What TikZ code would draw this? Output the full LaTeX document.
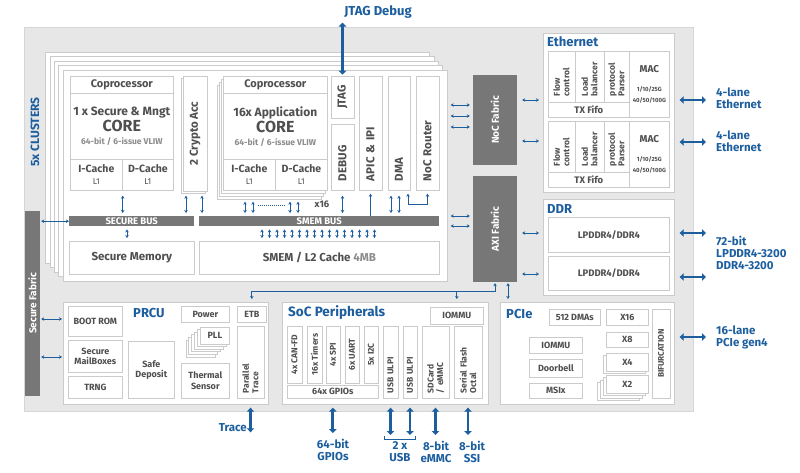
\documentclass[tikz,border=0pt]{standalone}
\usepackage{fontspec}
\setmainfont{Fira Sans}
\usetikzlibrary{arrows.meta, calc, positioning}

\definecolor{chipgray}{HTML}{E7E7E7}
\definecolor{chipline}{HTML}{D6D6D6}
\definecolor{fabgray}{HTML}{777777}
\definecolor{boxline}{HTML}{CBCBCB}
\definecolor{txtgray}{HTML}{4F4F4F}
\definecolor{litegray}{HTML}{8C8C8C}
\definecolor{linkblue}{HTML}{1C5E9E}

\newcommand{\fsz}[2]{\fontsize{#1}{#2}\selectfont}

\tikzset{
    blk/.style={draw=boxline, fill=white, line width=0.7pt, anchor=north west, inner sep=0pt,
                align=center, text=txtgray, font=\bfseries\fsz{9}{10.5}},
    vblk/.style={blk, rotate=90, anchor=center},
    sz/.style 2 args={minimum width=#1, minimum height=#2},
    fab/.style={fill=fabgray, inner sep=0pt, text=white, font=\bfseries\fsz{10}{11}},
    shade/.style={draw=boxline, fill=white, line width=0.7pt},
    ttl/.style={anchor=west, inner sep=0pt, text=linkblue, font=\bfseries\fsz{13}{15}},
    ext/.style={anchor=west, align=left, inner sep=0pt, text=linkblue, font=\bfseries\fsz{11.5}{12}},
    arr/.style={{Stealth[length=3pt,width=3.5pt]}-{Stealth[length=3pt,width=3.5pt]}, draw=linkblue, line width=0.9pt},
    uparr/.style={-{Stealth[length=3pt,width=3.5pt]}, draw=linkblue, line width=0.9pt},
    busarr/.style={arr, shorten <=3pt, shorten >=3pt},
    bigarr/.style={{Triangle[length=4pt,width=7.5pt]}-{Triangle[length=4pt,width=7.5pt]}, draw=linkblue, line width=2.8pt},
    colt/.style={vblk, font=\bfseries\fsz{8.5}{9.5}, text width=39, align=left},
    tall/.style={vblk, font=\bfseries\fsz{11.5}{12}, align=left},
    slim/.style={vblk, font=\bfseries\fsz{8.5}{9.5}},
}

\begin{document}
\begin{tikzpicture}[x=1pt, y=-1pt]
\useasboundingbox (0,0) rectangle (800,472);

% chip
\node[draw=chipline, fill=chipgray, anchor=north west, inner sep=0pt, sz={669}{384}] (chip) at (24,27) {};

% clusters
\foreach \k in {4,3,2,1}
    \draw[shade] (63-4.3*\k, 70-4.5*\k) rectangle (447-4.3*\k, 281-4.5*\k);
\node[blk, sz={384}{211}] (clu) at (63,70) {};
\node[rotate=90, text=linkblue, font=\bfseries\fsz{12}{13}] (clulab) at (35,132) {5x CLUSTERS};
\node[fab, rotate=90, sz={185}{15}] (secfab) at (32.5,303.5) {Secure Fabric};

\node[blk, sz={103}{17}, font=\bfseries\fsz{11}{12}] (coproS) at (70,76) {Coprocessor};
\node[blk, sz={103}{66}, font=\bfseries\fsz{12}{14}] (coreS) at (70,93) {1 x Secure \& Mngt\\[1pt]\fsz{16}{18}CORE\\[-1pt]\fsz{8.5}{10}\color{litegray}64-bit / 6-issue VLIW};
\node[blk, sz={52}{31}, font=\bfseries\fsz{10.5}{12}] (icS) at (70,159) {I-Cache\\\mdseries\fsz{8.5}{10}L1};
\node[blk, sz={51}{31}, font=\bfseries\fsz{10.5}{12}] (dcS) at (122,159) {D-Cache\\\mdseries\fsz{8.5}{10}L1};

\draw[shade] (181,78.5) rectangle (205,193.5);
\node[vblk, sz={115}{24}, font=\bfseries\fsz{11.5}{12}] (crypto) at (195,133.5) {2 Crypto Acc};

\foreach \k in {3,2,1}
    \draw[shade] (223-2*\k, 76+3*\k) rectangle (327-2*\k, 190+3*\k);
\node[blk, sz={104}{17}, font=\bfseries\fsz{11}{12}] (coproA) at (223,76) {Coprocessor};
\node[blk, sz={104}{66}, font=\bfseries\fsz{12}{14}] (coreA) at (223,93) {16x Application\\[1pt]\fsz{16}{18}CORE\\[-1pt]\fsz{8.5}{10}\color{litegray}64-bit / 6-issue VLIW};
\node[blk, sz={52}{31}, font=\bfseries\fsz{10.5}{12}] (icA) at (223,159) {I-Cache\\\mdseries\fsz{8.5}{10}L1};
\node[blk, sz={52}{31}, font=\bfseries\fsz{10.5}{12}] (dcA) at (275,159) {D-Cache\\\mdseries\fsz{8.5}{10}L1};

\node[tall, sz={42}{23}, align=center] (jtag) at (342.5,97) {JTAG};
\node[tall, sz={66}{23}, text width=48] (dbg) at (342.5,157) {DEBUG};
\node[tall, sz={114}{23}, text width=96] (apic) at (370.5,133) {APIC \& IPI};
\node[tall, sz={114}{22}, text width=96] (dma) at (399,133) {DMA};
\node[tall, sz={114}{23}, text width=96] (rtr) at (427.5,133) {NoC Router};

\node[fab, anchor=north west, sz={125}{10}, font=\bfseries\fsz{9.5}{10}] (sbus) at (69,216) {SECURE BUS};
\node[fab, anchor=north west, sz={240}{10}, font=\bfseries\fsz{9.5}{10}] (mbus) at (199,216) {SMEM BUS};
\node[blk, sz={125}{33}, font=\bfseries\fsz{11.5}{12}] (smem) at (69,241) {Secure Memory};
\node[blk, sz={240}{33}, font=\bfseries\fsz{11.5}{12}] (l2) at (199,241) {SMEM / L2 Cache \textcolor{litegray}{4MB}};
\node[text=txtgray, inner sep=0pt, font=\bfseries\fsz{9.5}{10}] (x16) at (322,204) {x16};

% fabrics
\node[fab, rotate=90, sz={90}{44}] (noc) at (495,120) {NoC Fabric};
\node[fab, rotate=90, sz={106}{44}] (axi) at (495,229) {AXI Fabric};

% ethernet
\node[blk, sz={131}{159}] (eth) at (543,33) {};
\node[ttl] (ethlab) at (547,42) {Ethernet};
\node[blk, sz={121}{66}] (ethA) at (548,51) {};
\node[colt, sz={51}{27}] (flowA) at (561.5,76.5) {Flow\\control};
\node[colt, sz={51}{29}] (lbA) at (589.5,76.5) {Load\\balancer};
\node[colt, sz={51}{25}] (ppA) at (616.5,76.5) {protocol\\Parser};
\node[blk, sz={81}{15}, font=\bfseries\fsz{9.5}{10}] (txA) at (548,102) {TX Fifo};
\node[blk, sz={40}{66}, font=\bfseries\fsz{10}{11}] (macA) at (629,51) {MAC\\[8pt]\fsz{6}{7}1/10/25G\\\fsz{6}{7}40/50/100G};
\node[blk, sz={121}{66}] (ethB) at (548,121) {};
\node[colt, sz={51}{27}] (flowB) at (561.5,146.5) {Flow\\control};
\node[colt, sz={51}{29}] (lbB) at (589.5,146.5) {Load\\balancer};
\node[colt, sz={51}{25}] (ppB) at (616.5,146.5) {protocol\\Parser};
\node[blk, sz={81}{15}, font=\bfseries\fsz{9.5}{10}] (txB) at (548,172) {TX Fifo};
\node[blk, sz={40}{66}, font=\bfseries\fsz{10}{11}] (macB) at (629,121) {MAC\\[8pt]\fsz{6}{7}1/10/25G\\\fsz{6}{7}40/50/100G};

% ddr
\node[blk, sz={131}{96}] (ddr) at (543,199) {};
\node[ttl] (ddrlab) at (547,209) {DDR};
\node[blk, sz={121}{35}, font=\bfseries\fsz{9.5}{10}] (ddrA) at (548,217) {LPDDR4/DDR4};
\node[blk, sz={121}{34}, font=\bfseries\fsz{9.5}{10}] (ddrB) at (548,256) {LPDDR4/DDR4};

% pcie
\node[blk, sz={174}{102}] (pcie) at (500,302) {};
\node[ttl] (pcielab) at (506,314) {PCIe};
\node[blk, sz={51}{16}] (dmas) at (549,309) {512 DMAs};
\node[blk, sz={42}{16}] (x16l) at (606,309) {X16};
\node[blk, sz={42}{15}] (x8l) at (606,332) {X8};
\draw[shade] (603,355.5) rectangle (645,373.5);
\node[blk, sz={42}{18}] (x4l) at (606,353) {X4};
\foreach \k in {3,2,1}
    \draw[shade] (606-3*\k, 375+2.5*\k) rectangle (648-3*\k, 393+2.5*\k);
\node[blk, sz={42}{18}] (x2l) at (606,375) {X2};
\node[blk, sz={53}{16}] (piommu) at (529,337) {IOMMU};
\node[blk, sz={53}{18}] (door) at (529,359) {Doorbell};
\node[blk, sz={53}{15}] (msix) at (529,383) {MSIx};
\node[slim, sz={89}{18}, font=\bfseries\fsz{8.2}{9}] (bif) at (661,353.5) {BIFURCATION};

% prcu
\node[blk, sz={205}{102}] (prcu) at (63,302) {};
\node[ttl] (prculab) at (133,313) {PRCU};
\node[blk, sz={54}{30}] (boot) at (68,306) {BOOT ROM};
\node[blk, sz={54}{32}] (mail) at (68,340) {Secure\\MailBoxes};
\node[blk, sz={54}{22}] (trng) at (68,376) {TRNG};
\node[blk, sz={46}{57}] (safe) at (128,341) {Safe\\Deposit};
\node[blk, sz={48}{16}] (power) at (181,306) {Power};
\foreach \k in {5,4,3,2,1}
    \draw[shade] (200-2.8*\k, 327+2.6*\k) rectangle (229-2.8*\k, 344+2.6*\k);
\node[blk, sz={29}{17}] (pll) at (200,327) {PLL};
\node[blk, sz={48}{35}] (therm) at (181,363) {Thermal\\Sensor};
\node[blk, sz={29}{16}] (etb) at (237,306) {ETB};
\node[slim, sz={72}{27}, text width=62, align=left] (ptrace) at (250.5,362) {Parallel\\Trace};

% soc peripherals
\node[blk, sz={206}{102}] (soc) at (282,302) {};
\node[ttl, font=\bfseries\fsz{13.5}{15}] (soclab) at (288,313) {SoC Peripherals};
\node[blk, sz={53}{17}] (siommu) at (430,307) {IOMMU};
\node[slim, sz={57}{15}] (can) at (294.5,354.5) {4x CAN-FD};
\node[slim, sz={57}{15}] (tim) at (314.5,354.5) {16x Timers};
\node[slim, sz={57}{14}] (spi) at (333,354.5) {4x SPI};
\node[slim, sz={57}{14}] (uart) at (352,354.5) {6x UART};
\node[slim, sz={57}{14}] (iic) at (371,354.5) {5x I2C};
\node[blk, sz={91}{13}] (gpio) at (287,385) {64x GPIOs};
\node[slim, sz={72}{15}, text width=62, align=left] (usb1) at (390.5,362) {USB ULPI};
\node[slim, sz={72}{14}, text width=62, align=left] (usb2) at (410,362) {USB ULPI};
\node[slim, sz={72}{27}, text width=62, align=left] (sd) at (435.5,362) {SDCard\\/ eMMC};
\node[slim, sz={72}{28}, text width=62, align=left] (sf) at (468,362) {Serial Flash\\Octal};

% outside labels
\node[ext, anchor=center, align=center, font=\bfseries\fsz{13}{14}] (jlab) at (378,12) {JTAG Debug};
\node[ext] (elab1) at (716,98) {4-lane\\Ethernet};
\node[ext] (elab2) at (716,141) {4-lane\\Ethernet};
\node[ext] (dlab) at (716,253) {72-bit\\LPDDR4-3200\\DDR4-3200};
\node[ext] (plab) at (716,337) {16-lane\\PCIe gen4};
\node[ext, anchor=east] (tlab) at (247,428) {Trace};
\node[ext, anchor=north, align=center] (lgpio) at (333,439) {64-bit\\GPIOs};
\node[ext, anchor=north, align=center] (lusb) at (400,441) {2 x\\USB};
\node[ext, anchor=north, align=center] (lemmc) at (436,441) {8-bit\\eMMC};
\node[ext, anchor=north, align=center] (lssi) at (472,441) {8-bit\\SSI};

% links inside the cluster
\draw[arr, shorten <=1pt] (secfab.south |- sbus.west) -- (sbus.west);
\draw[busarr, shorten <=5pt] (icS.south east) -- (icS.south east |- sbus.north);
\foreach \dx in {-9,7}
    \draw[busarr, shorten <=5pt] ($(crypto.center |- icS.south)+(\dx,0)$) -- ($(crypto.center |- sbus.north)+(\dx,0)$);
\foreach \dx in {22,30,67,75}
    \draw[busarr, shorten <=11pt] ($(icA.south west)+(\dx,0)$) -- ($(icA.south west |- mbus.north)+(\dx,0)$);
\draw[linkblue, line width=0.7pt, dash pattern=on 1pt off 1pt] ($(icA.south west)+(35,15)$) -- ($(icA.south west)+(62,15)$);
\draw[busarr, shorten <=5pt] (dbg.center |- icS.south) -- (dbg.center |- sbus.north);
\draw[uparr, shorten >=3pt] (apic.center |- mbus.north) -- (apic.center |- icS.south);
\foreach \dx in {-8,0}
    \draw[busarr, shorten <=5pt] ($(dma.center |- icS.south)+(\dx,0)$) -- ($(dma.center |- mbus.north)+(\dx,0)$);
\draw[arr] ($(dma.center |- icS.south)+(9,3)$) -- ($(dma.center |- icS.south)+(9,14)$) -| ($(rtr.center |- icS.south)+(0,3)$);
\draw[busarr] ($(sbus.south west)+(58,0)$) -- ($(smem.north west)+(58,0)$);
\foreach \i in {0,...,15}
    \draw[busarr, line width=0.8pt] ($(mbus.south west)+(63+7.5*\i,0)$) -- ($(l2.north west)+(63+7.5*\i,0)$);

% links between blocks
\foreach \yy in {105,116,127}
    \draw[busarr] (clu.east |- 0,\yy) -- (noc.north |- 0,\yy);
\foreach \yy in {216,226}
    \draw[busarr] (clu.east |- 0,\yy) -- (axi.north |- 0,\yy);
\foreach \yy in {100,141}
    \draw[arr, shorten <=5pt, shorten >=4pt] (noc.south |- 0,\yy) -- (eth.west |- 0,\yy);
\foreach \yy in {233,274}
    \draw[arr, shorten <=5pt, shorten >=4pt] (axi.south |- 0,\yy) -- (ddr.west |- 0,\yy);
\foreach \yy in {319,357}
    \draw[arr, shorten <=1pt, shorten >=1pt] (secfab.south |- 0,\yy) -- (prcu.west |- 0,\yy);
\coordinate (hub) at (axi.west |- 0,291);
\draw[uparr, shorten >=1pt] (etb.north |- hub) -- (hub) -- (axi.west);
\draw[uparr, shorten >=3pt] (etb.north |- hub) -- (etb.north |- prcu.north);
\draw[uparr, shorten >=3pt] (siommu.north |- hub) -- (siommu.north |- soc.north);
\coordinate (apcie) at ($(axi.west)+(13,0)$);
\draw[arr, shorten <=1pt, shorten >=3pt] (apcie) -- (apcie |- pcie.north);

% links to the outside
\draw[bigarr, shorten <=4pt, shorten >=1pt] (jtag.center |- jlab.south) -- (jtag.east);
\draw[bigarr, shorten <=5pt, shorten >=10pt] (eth.east |- 0,100) -- (elab1.west |- 0,100);
\draw[bigarr, shorten <=5pt, shorten >=10pt] (eth.east |- 0,142) -- (elab2.west |- 0,142);
\draw[bigarr, shorten <=5pt, shorten >=10pt] (ddr.east |- 0,233) -- (dlab.west |- 0,233);
\draw[bigarr, shorten <=5pt, shorten >=10pt] (ddr.east |- 0,277) -- (dlab.west |- 0,277);
\draw[bigarr, shorten <=5pt, shorten >=10pt] (pcie.east |- 0,337) -- (plab.west |- 0,337);
\draw[bigarr, shorten <=3pt] (ptrace.center |- prcu.south) -- (ptrace.center |- tlab.south);
\draw[bigarr, shorten <=3pt, shorten >=6pt] (gpio.center |- soc.south) -- (gpio.center |- lgpio.north);
\draw[bigarr, shorten <=3pt, shorten >=6pt] (usb1.center |- soc.south) -- (usb1.center |- lusb.north);
\draw[bigarr, shorten <=3pt, shorten >=6pt] (usb2.center |- soc.south) -- (usb2.center |- lusb.north);
\draw[bigarr, shorten <=3pt, shorten >=6pt] (sd.center |- soc.south) -- (sd.center |- lemmc.north);
\draw[bigarr, shorten <=3pt, shorten >=6pt] (sf.center |- soc.south) -- (sf.center |- lssi.north);
\draw[linkblue, line width=0.7pt] ($(usb1.center |- lusb.north)+(-6,-5)$) |- ($(usb2.center |- lusb.north)+(5,-2)$) -- ++(0,-3);

\end{tikzpicture}
\end{document}
